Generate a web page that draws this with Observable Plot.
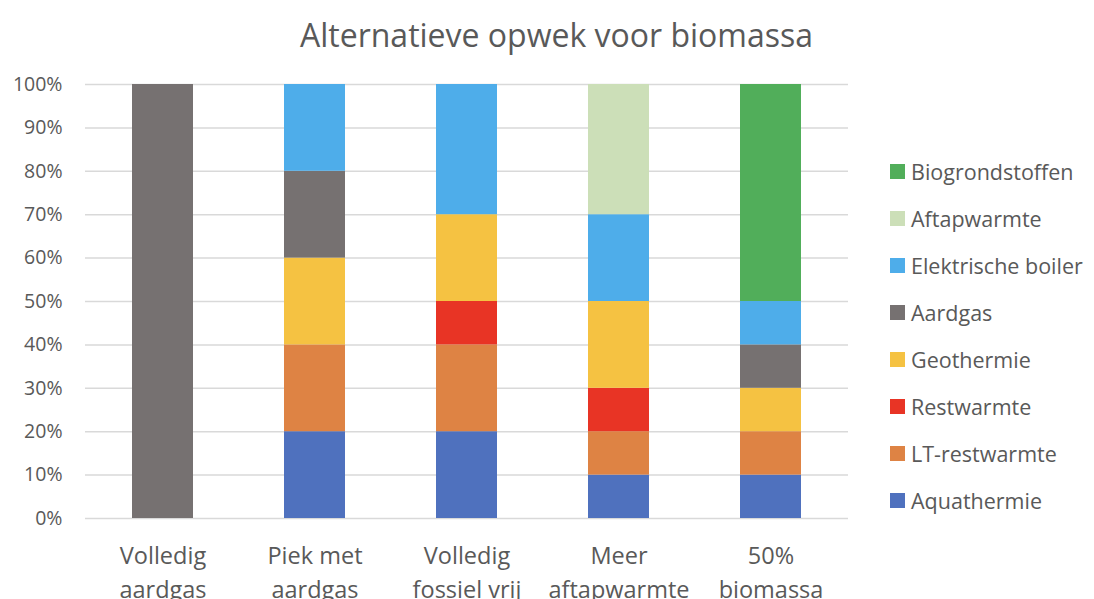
<!DOCTYPE html>
<html>
<head>
<meta charset="utf-8">
<script src="https://cdn.jsdelivr.net/npm/d3@7"></script>
<script src="https://cdn.jsdelivr.net/npm/@observablehq/plot@0.6"></script>
<style>
  body { margin: 0; background: #fff; font-family: "Open Sans", sans-serif; }
  #wrap { position: relative; width: 1094px; height: 599px; overflow: hidden; }
  #title { position: absolute; left: 0; top: 13px; width: 1113px; text-align: center; font-size: 32px; line-height: 44px; color: #595959; }
  #chart { position: absolute; left: 0; top: 60px; }
  #legend { position: absolute; left: 890px; top: 148.5px; }
  .item { display: flex; align-items: center; height: 46.9px; font-size: 21.5px; color: #595959; white-space: nowrap; }
  .sw { width: 15px; height: 15px; margin-right: 6px; flex: none; }
</style>
</head>
<body>
<div id="wrap">
  <div id="title">Alternatieve opwek voor biomassa</div>
  <div id="chart"></div>
  <div id="legend"></div>
</div>
<script>
const categories = ["Volledig aardgas", "Piek met aardgas", "Volledig fossiel vrij", "Meer aftapwarmte", "50% biomassa"];
const categoryLabels = ["Volledig\naardgas", "Piek met\naardgas", "Volledig\nfossiel vrij", "Meer\naftapwarmte", "50%\nbiomassa"];
const series = ["Aquathermie", "LT-restwarmte", "Restwarmte", "Geothermie", "Aardgas", "Elektrische boiler", "Aftapwarmte", "Biogrondstoffen"];
const colors = ["#4F71BE", "#DE8344", "#E83425", "#F5C242", "#767171", "#4EADEA", "#CCDFB8", "#51AE5A"];
// values per series, per category (percent)
const Aquathermie      = [0, 20, 20, 10, 10];
const LTrestwarmte     = [0, 20, 20, 10, 10];
const Restwarmte       = [0, 0, 10, 10, 0];
const Geothermie       = [0, 20, 20, 20, 10];
const Aardgas          = [100, 20, 0, 0, 10];
const ElektrischeBoiler= [0, 20, 30, 20, 10];
const Aftapwarmte      = [0, 0, 0, 30, 0];
const Biogrondstoffen  = [0, 0, 0, 0, 50];
const yTicks = [0, 10, 20, 30, 40, 50, 60, 70, 80, 90, 100];

const valuesBySeries = [Aquathermie, LTrestwarmte, Restwarmte, Geothermie, Aardgas, ElektrischeBoiler, Aftapwarmte, Biogrondstoffen];
const data = [];
series.forEach((s, i) => categories.forEach((c, j) => {
  if (valuesBySeries[i][j] > 0) data.push({category: c, series: s, value: valuesBySeries[i][j]});
}));

const chart = Plot.plot({
  width: 1094,
  height: 539,
  marginLeft: 85,
  marginRight: 246,
  marginTop: 24,
  marginBottom: 81,
  style: {fontFamily: "'Open Sans', sans-serif", color: "#595959", background: "#fff"},
  x: {domain: categories, paddingInner: 0.6, paddingOuter: 0.3, label: null},
  y: {domain: [0, 100], label: null},
  color: {domain: series, range: colors},
  marks: [
    Plot.gridY(yTicks, {stroke: "#D9D9D9", strokeOpacity: 1, strokeWidth: 1.5}),
    Plot.barY(data, {x: "category", y: "value", fill: "series", order: series}),
    Plot.axisY({ticks: yTicks, tickSize: 0, tickPadding: 23, tickFormat: d => d + "%", fontSize: 19.5, fill: "#595959", label: null}),
    Plot.axisX({tickSize: 0, tickPadding: 22, fontSize: 23.5, lineHeight: 1.42, fill: "#595959", label: null,
      tickFormat: d => categoryLabels[categories.indexOf(d)]})
  ]
});
document.getElementById("chart").appendChild(chart);

const legend = document.getElementById("legend");
series.slice().reverse().forEach(s => {
  const it = document.createElement("div");
  it.className = "item";
  const sw = document.createElement("div");
  sw.className = "sw";
  sw.style.background = colors[series.indexOf(s)];
  const t = document.createElement("span");
  t.textContent = s;
  it.appendChild(sw); it.appendChild(t);
  legend.appendChild(it);
});
</script>
</body>
</html>
